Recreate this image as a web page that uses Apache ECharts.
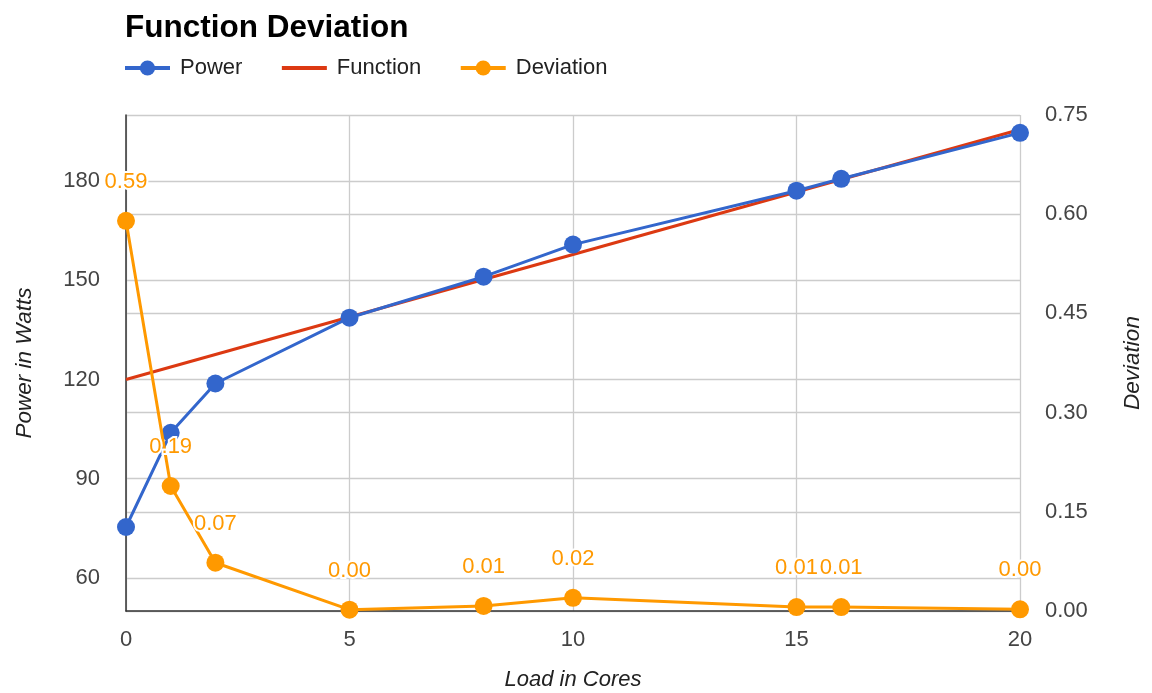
<!DOCTYPE html>
<html>
<head>
<meta charset="utf-8">
<script src="https://cdn.jsdelivr.net/npm/echarts@6/dist/echarts.min.js"></script>
<style>
html,body{margin:0;padding:0;background:#fff;}
#chart{width:1152px;height:693px;}
</style>
</head>
<body>
<div id="chart"></div>
<script>
// ---- data ----
const loadCores = [0, 1, 2, 5, 8, 10, 15, 16, 20];
const powerWatts = [75.4, 103.9, 118.8, 138.7, 151.1, 160.8, 177.1, 180.7, 194.6];
const functionX = [0, 20];
const functionY = [120, 195.6];
const deviation = [0.59, 0.189, 0.073, 0.002, 0.0076, 0.02, 0.006, 0.006, 0.0026];
const leftTicks = [60, 90, 120, 150, 180];

const FONT = '"Liberation Sans", Arial, sans-serif';
const BLUE = '#3366cc', RED = '#dc3912', ORANGE = '#ff9900';

const chart = echarts.init(document.getElementById('chart'), null, {renderer: 'canvas'});

const pair = (xs, ys) => xs.map((x, i) => [x, ys[i]]);

chart.setOption({
  animation: false,
  backgroundColor: '#fff',
  textStyle: {fontFamily: FONT},
  title: {
    text: 'Function Deviation',
    left: 120, top: 7,
    textStyle: {fontFamily: FONT, fontSize: 31.5, fontWeight: 'bold', color: '#000'}
  },
  legend: {
    left: 118, top: 52,
    itemWidth: 45, itemHeight: 19, itemGap: 37.5,
    lineStyle: {width: 4},
    textStyle: {fontFamily: FONT, fontSize: 22, color: '#222', padding: [0, 0, 0, 5]},
    data: ['Power', {name: 'Function', itemStyle: {opacity: 0}}, 'Deviation']
  },
  grid: {left: 126, right: 132, top: 115, bottom: 82, containLabel: false, outerBoundsMode: 'none'},
  xAxis: {
    type: 'value', min: 0, max: 20, interval: 5,
    name: 'Load in Cores', nameLocation: 'middle', nameGap: 58,
    nameTextStyle: {fontFamily: FONT, fontSize: 22, fontStyle: 'italic', color: '#222'},
    axisLine: {show: true, onZero: false, lineStyle: {color: '#333', width: 1.5}},
    axisTick: {show: false},
    axisLabel: {fontFamily: FONT, fontSize: 22, color: '#444', margin: 18},
    splitLine: {show: true, lineStyle: {color: '#cccccc', width: 1.3}}
  },
  yAxis: [
    {
      type: 'value', min: 50, max: 200, position: 'left',
      name: 'Power in Watts', nameLocation: 'middle', nameGap: 90,
      nameTextStyle: {fontFamily: FONT, fontSize: 22.5, fontStyle: 'italic', color: '#222'},
      axisLine: {show: true, lineStyle: {color: '#333', width: 1.5}},
      axisTick: {show: false, customValues: leftTicks},
      axisLabel: {fontFamily: FONT, fontSize: 22, color: '#444', margin: 26, customValues: leftTicks},
      splitLine: {show: true, lineStyle: {color: '#cccccc', width: 1.3}}
    },
    {
      type: 'value', min: 0, max: 0.75, interval: 0.15, position: 'right',
      name: 'Deviation', nameLocation: 'middle', nameGap: 101,
      nameTextStyle: {fontFamily: FONT, fontSize: 22.5, fontStyle: 'italic', color: '#222'},
      axisLine: {show: false},
      axisTick: {show: false},
      axisLabel: {fontFamily: FONT, fontSize: 22, color: '#444', margin: 25,
        formatter: v => v.toFixed(2)},
      splitLine: {show: true, lineStyle: {color: '#cccccc', width: 1.3}}
    }
  ],
  series: [
    {
      name: 'Power', type: 'line', yAxisIndex: 0,
      data: pair(loadCores, powerWatts),
      symbol: 'circle', symbolSize: 18,
      lineStyle: {color: BLUE, width: 3},
      itemStyle: {color: BLUE},
      z: 3
    },
    {
      name: 'Function', type: 'line', yAxisIndex: 0,
      data: pair(functionX, functionY),
      symbol: 'none',
      lineStyle: {color: RED, width: 3},
      itemStyle: {color: RED},
      z: 2
    },
    {
      name: 'Deviation', type: 'line', yAxisIndex: 1,
      data: pair(loadCores, deviation),
      symbol: 'circle', symbolSize: 18,
      lineStyle: {color: ORANGE, width: 3},
      itemStyle: {color: ORANGE},
      label: {
        show: true, position: 'top', distance: 19,
        fontFamily: FONT, fontSize: 22, color: ORANGE,
        textBorderColor: '#fff', textBorderWidth: 4,
        formatter: p => p.value[1].toFixed(2)
      },
      labelLayout: {hideOverlap: false},
      z: 4
    }
  ]
});
</script>
</body>
</html>
